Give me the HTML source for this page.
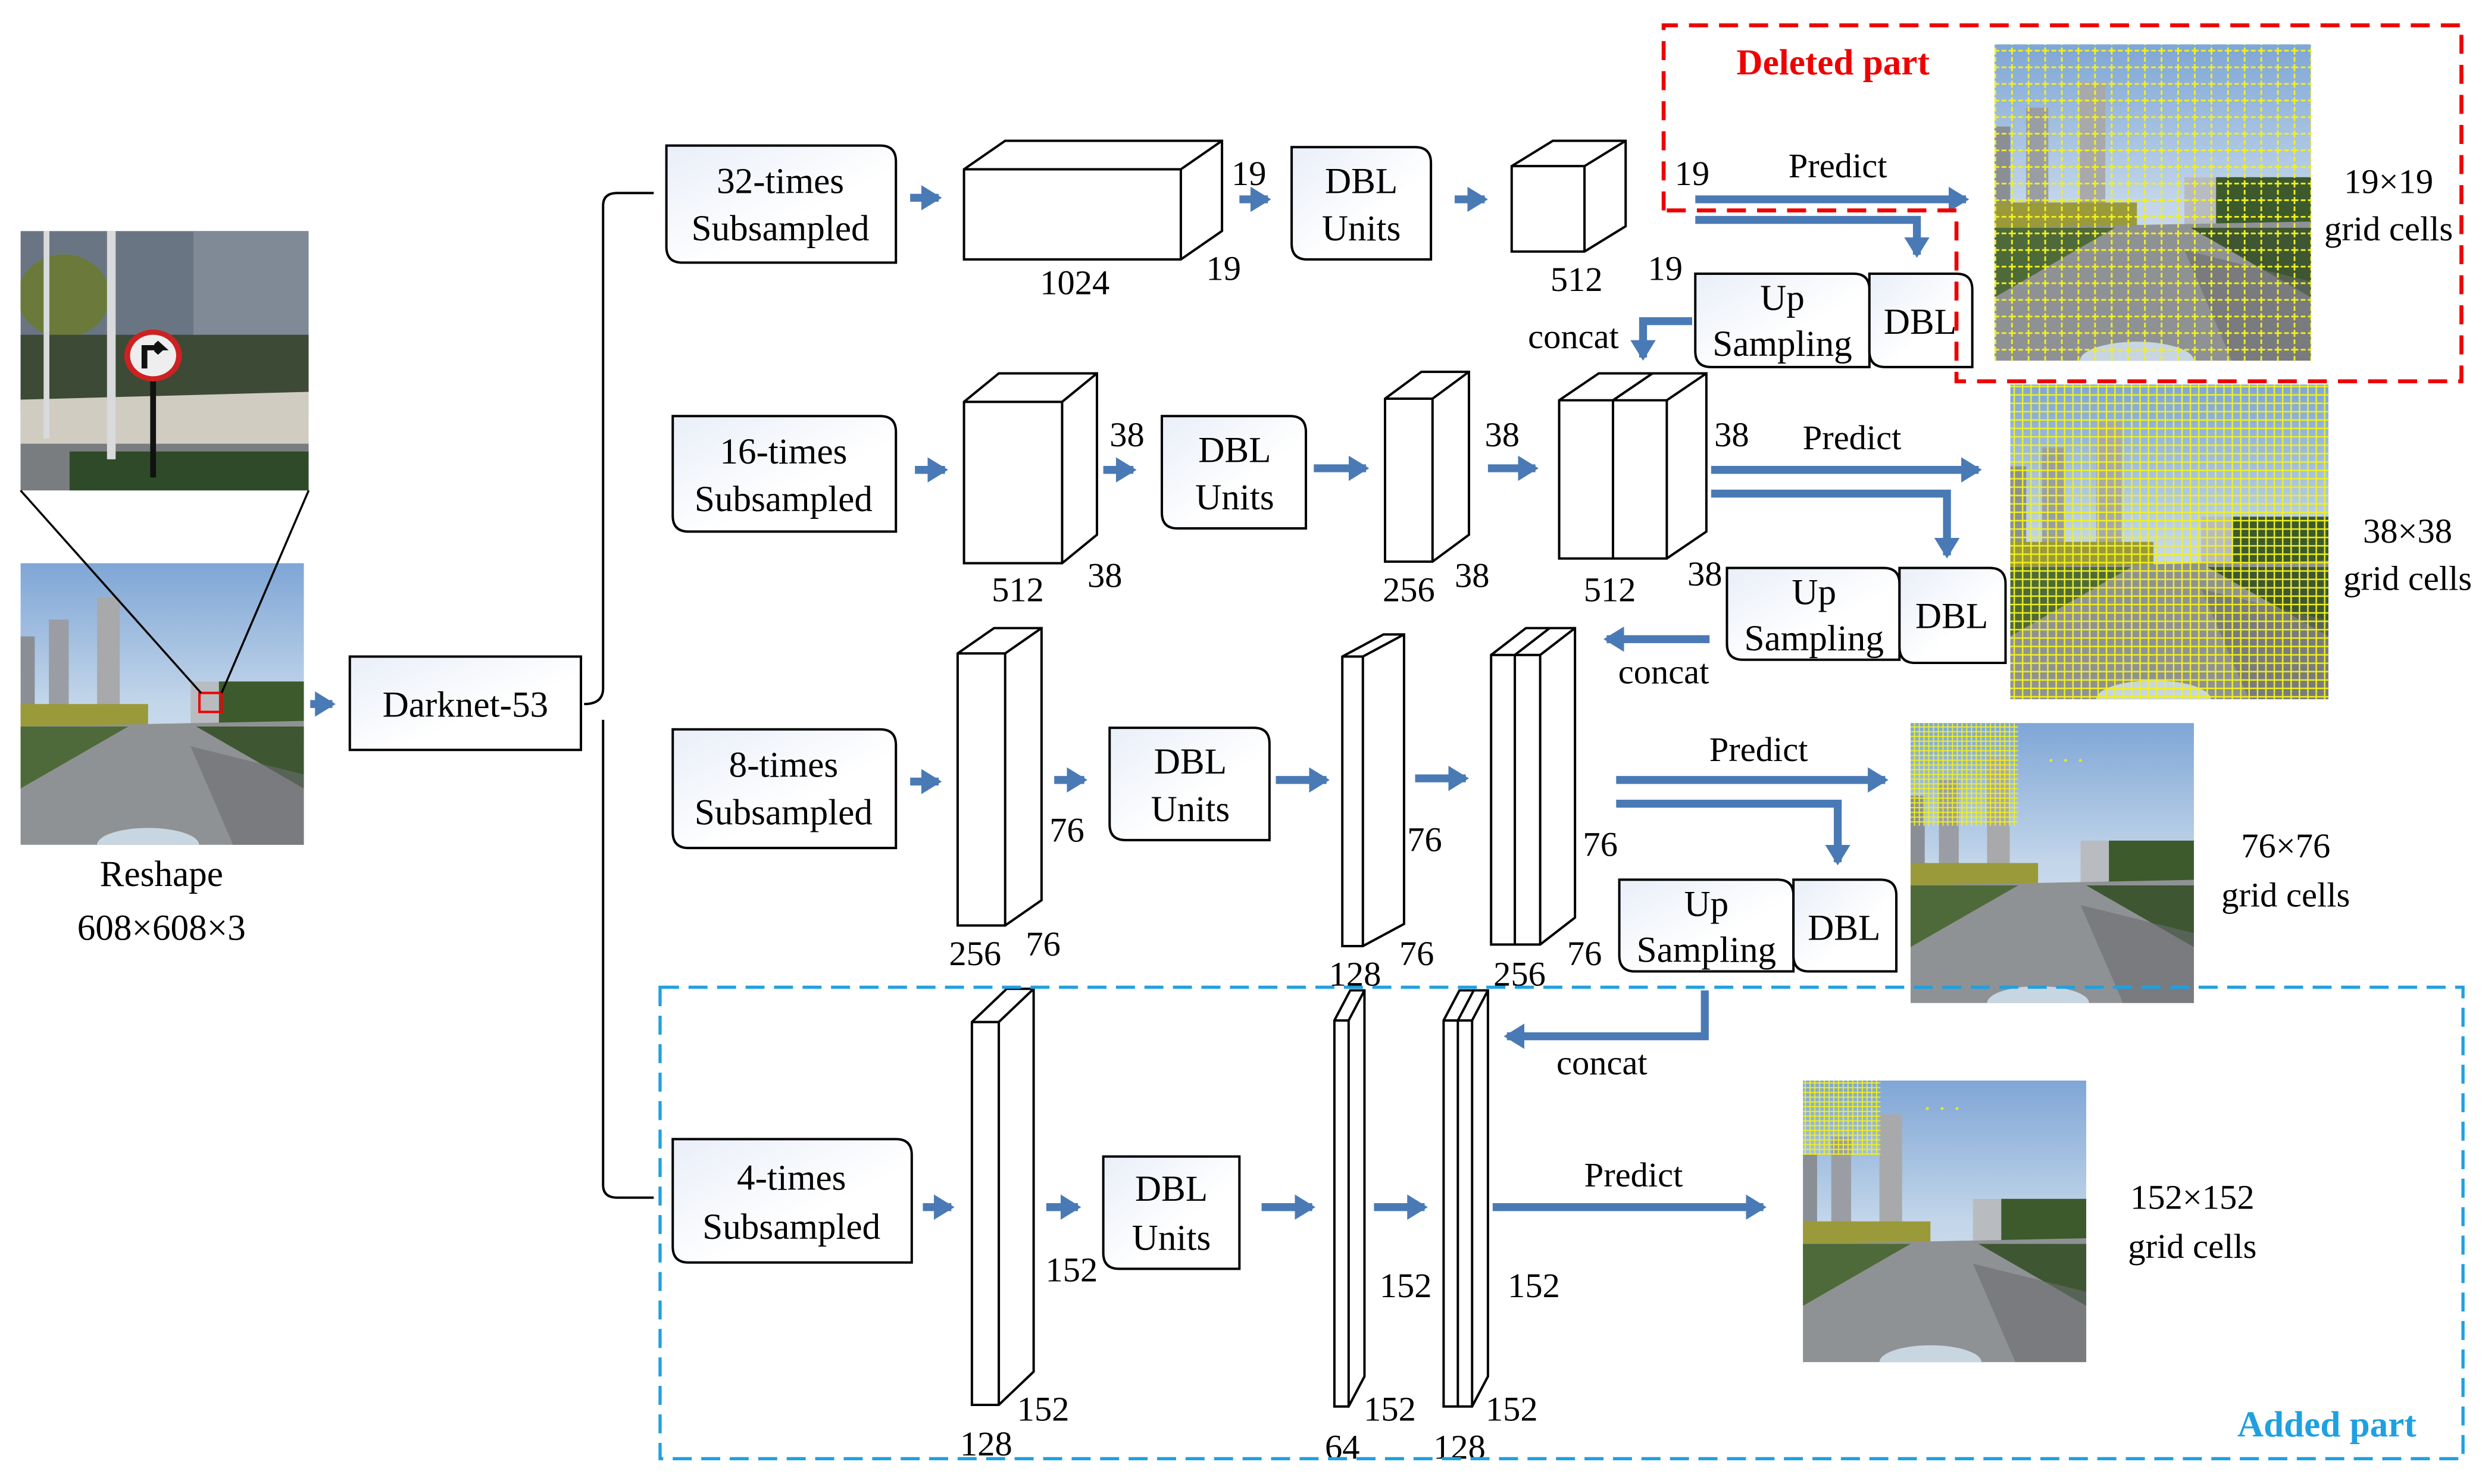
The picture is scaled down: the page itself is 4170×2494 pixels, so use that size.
<!DOCTYPE html>
<html><head><meta charset="utf-8"><style>
html,body{margin:0;padding:0;background:#fff}
svg{display:block}
text{font-family:"Liberation Serif",serif;fill:#000}
</style></head><body>
<svg width="4170" height="2494" viewBox="0 0 1568 938" preserveAspectRatio="none" xmlns="http://www.w3.org/2000/svg">
<defs>
<linearGradient id="sky" x1="0" y1="0" x2="0" y2="1"><stop offset="0" stop-color="#7fa6d6"/><stop offset="0.5" stop-color="#c3d6ea"/><stop offset="1" stop-color="#d8e2ea"/></linearGradient>
<linearGradient id="box" x1="0" y1="0" x2="1" y2="1"><stop offset="0" stop-color="#e9eef8"/><stop offset="0.6" stop-color="#fff"/></linearGradient>
<symbol id="street" viewBox="0 0 100 100" preserveAspectRatio="none">
<rect width="100" height="100" fill="url(#sky)"/>
<rect x="0" y="26" width="5" height="30" fill="#8a8f96"/>
<rect x="10" y="20" width="7" height="36" fill="#9a9ea4"/>
<rect x="27" y="12" width="8" height="44" fill="#a8a9aa"/>
<rect x="60" y="42" width="10" height="16" fill="#b8bcc0"/>
<rect x="0" y="50" width="45" height="10" fill="#9a9a3a"/>
<rect x="70" y="42" width="30" height="20" fill="#3c5a2c"/>
<polygon points="0,58 100,56 100,100 0,100" fill="#8f9294"/>
<polygon points="0,58 38,58 0,80" fill="#4e6a3a"/>
<polygon points="62,58 100,58 100,80" fill="#3e5632"/>
<polygon points="60,65 100,75 100,100 75,100" fill="#6a6c70" opacity="0.6"/>
<ellipse cx="45" cy="100" rx="18" ry="6" fill="#c8d6e2"/>
</symbol>
<symbol id="crop" viewBox="0 0 100 100" preserveAspectRatio="none">
<rect width="100" height="100" fill="#6a7584"/>
<rect x="60" y="0" width="40" height="45" fill="#7f8a96"/>
<circle cx="15" cy="25" r="16" fill="#6b7a3a"/>
<rect x="0" y="40" width="100" height="30" fill="#3d4a36"/>
<polygon points="0,65 100,62 100,82 0,85" fill="#d0ccc2"/>
<rect x="0" y="82" width="100" height="18" fill="#7a7d80"/>
<rect x="17" y="85" width="83" height="15" fill="#2f4a28"/>
<rect x="30" y="0" width="3" height="88" fill="#d8dadc"/>
<rect x="8" y="0" width="2" height="80" fill="#d8dadc"/>
<rect x="45" y="50" width="2" height="45" fill="#111"/>
<circle cx="46" cy="48" r="9" fill="#eee" stroke="#c22" stroke-width="2"/>
<path d="M43,53 v-8 h6 l-2,-2 m2,2 l-2,2" stroke="#111" stroke-width="2" fill="none"/>
</symbol>
<pattern id="g19" width="10.5" height="10.5" patternUnits="userSpaceOnUse"><path d="M0,0.5 H10.5 M0.5,0 V10.5" stroke="#f0f020" stroke-width="1.2" stroke-dasharray="3 1.5"/></pattern>
<pattern id="g38" width="5.3" height="5.3" patternUnits="userSpaceOnUse"><path d="M0,0.5 H5.3 M0.5,0 V5.3" stroke="#f0f020" stroke-width="0.9"/></pattern>
<pattern id="g76" width="3" height="3" patternUnits="userSpaceOnUse"><path d="M0,0.5 H3 M0.5,0 V3" stroke="#f0f020" stroke-width="0.7"/></pattern>
<marker id="ah" markerWidth="4" markerHeight="4" refX="2.2" refY="2" orient="auto" markerUnits="strokeWidth"><path d="M0,0.4 L2.6,2 L0,3.6 z" fill="#4a7ab5"/></marker>
</defs>

<!-- left images -->
<use href="#crop" x="13" y="146" width="182" height="164"/>
<use href="#street" x="13" y="356" width="179" height="178"/>
<rect x="126" y="438" width="14" height="12" fill="none" stroke="#e00" stroke-width="1.5"/>
<line x1="13" y1="310" x2="127" y2="438" stroke="#000" stroke-width="1.3"/>
<line x1="195" y1="310" x2="140" y2="438" stroke="#000" stroke-width="1.3"/>
<text x="102" y="560" font-size="23" text-anchor="middle">Reshape</text>
<text x="102" y="594" font-size="23" text-anchor="middle">608×608×3</text>

<g stroke="#4a7ab5" stroke-width="5" fill="none" marker-end="url(#ah)">
<line x1="196" y1="445" x2="210" y2="445"/>
<line x1="575" y1="125" x2="593" y2="125"/>
<line x1="783" y1="126" x2="801" y2="126"/>
<line x1="919" y1="126" x2="938" y2="126"/>
<line x1="578" y1="297" x2="597" y2="297"/>
<line x1="697" y1="297" x2="716" y2="297"/>
<line x1="830" y1="296" x2="863" y2="296"/>
<line x1="940" y1="296" x2="970" y2="296"/>
<line x1="575" y1="494" x2="593" y2="494"/>
<line x1="666" y1="493" x2="685" y2="493"/>
<line x1="806" y1="493" x2="838" y2="493"/>
<line x1="894" y1="492" x2="926" y2="492"/>
<line x1="583" y1="763" x2="601" y2="763"/>
<line x1="661" y1="763" x2="681" y2="763"/>
<line x1="797" y1="763" x2="829" y2="763"/>
<line x1="868" y1="763" x2="900" y2="763"/>
<line x1="1071" y1="126" x2="1242" y2="126"/>
<polyline points="1071,139 1211,139 1211,161"/>
<line x1="1081" y1="297" x2="1250" y2="297"/>
<polyline points="1081,312 1230,312 1230,351"/>
<line x1="1021" y1="493" x2="1191" y2="493"/>
<polyline points="1021,508 1161,508 1161,545"/>
<line x1="943" y1="763" x2="1114" y2="763"/>
<polyline points="1069,203 1038,203 1038,226"/>
<line x1="1080" y1="404" x2="1015" y2="404"/>
<polyline points="1077,626 1077,655 952,655"/>
</g>

<!-- Darknet and bracket -->
<rect x="221" y="415" width="146" height="59" fill="url(#box)" stroke="#000" stroke-width="1.5"/>
<text x="294" y="453" font-size="23" text-anchor="middle">Darknet-53</text>
<path d="M369,445 Q381,445 381,435 V130 Q381,122 390,122 H413 M381,455 V749 Q381,757 390,757 H413" stroke="#000" stroke-width="1.5" fill="none"/>

<!-- rounded boxes -->
<g stroke="#000" stroke-width="1.5" fill="url(#box)">
<path d="M421,92 H556 Q566,92 566,102 V166 H431 Q421,166 421,156 Z"/>
<path d="M425,263 H556 Q566,263 566,273 V336 H435 Q425,336 425,326 Z"/>
<path d="M425,461 H556 Q566,461 566,471 V536 H435 Q425,536 425,526 Z"/>
<path d="M425,720 H566 Q576,720 576,730 V798 H435 Q425,798 425,788 Z"/>
<path d="M816,93 H894 Q904,93 904,103 V164 H826 Q816,164 816,154 Z"/>
<path d="M734,263 H815 Q825,263 825,273 V334 H744 Q734,334 734,324 Z"/>
<path d="M701,460 H792 Q802,460 802,470 V531 H711 Q701,531 701,521 Z"/>
<path d="M697,731 H783 V802 H707 Q697,802 697,792 Z"/>
<path d="M1071,173 H1171 Q1181,173 1181,183 V232 H1081 Q1071,232 1071,222 Z"/>
<path d="M1181,173 H1236 Q1246,173 1246,183 V232 H1191 Q1181,232 1181,222 Z"/>
<path d="M1091,359 H1190 Q1200,359 1200,369 V417 H1101 Q1091,417 1091,407 Z"/>
<path d="M1200,359 H1257 Q1267,359 1267,369 V419 H1210 Q1200,419 1200,409 Z"/>
<path d="M1023,556 H1123 Q1133,556 1133,566 V614 H1033 Q1023,614 1023,604 Z"/>
<path d="M1133,556 H1188 Q1198,556 1198,566 V614 H1143 Q1133,614 1133,604 Z"/>
</g>
<g font-size="23" text-anchor="middle">
<text x="493" y="122">32-times</text><text x="493" y="152">Subsampled</text>
<text x="495" y="293">16-times</text><text x="495" y="323">Subsampled</text>
<text x="495" y="491">8-times</text><text x="495" y="521">Subsampled</text>
<text x="500" y="752">4-times</text><text x="500" y="783">Subsampled</text>
<text x="860" y="122">DBL</text><text x="860" y="152">Units</text>
<text x="780" y="292">DBL</text><text x="780" y="322">Units</text>
<text x="752" y="489">DBL</text><text x="752" y="519">Units</text>
<text x="740" y="759">DBL</text><text x="740" y="790">Units</text>
<text x="1126" y="196">Up</text><text x="1126" y="225">Sampling</text><text x="1213" y="211">DBL</text>
<text x="1146" y="382">Up</text><text x="1146" y="411">Sampling</text><text x="1233" y="397">DBL</text>
<text x="1078" y="579">Up</text><text x="1078" y="608">Sampling</text><text x="1165" y="594">DBL</text>
</g>

<!-- cuboids -->
<g stroke="#000" stroke-width="1.5" fill="#fff" stroke-linejoin="miter">
<path d="M609,107 L635,89 H772 V146 L746,164 H609 Z M609,107 H746 V164 M746,107 L772,89"/>
<path d="M955,105 L981,89 H1027 V143 L1001,159 H955 Z M955,105 H1001 V159 M1001,105 L1027,89"/>
<path d="M609,254 L631,236 H693 V338 L671,356 H609 Z M609,254 H671 V356 M671,254 L693,236"/>
<path d="M875,252 L898,235 H928 V338 L905,355 H875 Z M875,252 H905 V355 M905,252 L928,235"/>
<path d="M985,253 L1010,236 H1078 V336 L1053,353 H985 Z M985,253 H1053 V353 M1053,253 L1078,236 M1019,253 V353 M1019,253 L1044,236"/>
<path d="M605,413 L628,397 H658 V569 L635,585 H605 Z M605,413 H635 V585 M635,413 L658,397"/>
<path d="M848,415 L874,401 H887 V584 L861,598 H848 Z M848,415 H861 V598 M861,415 L887,401"/>
<path d="M942,414 L964,397 H995 V580 L973,597 H942 Z M942,414 H973 V597 M973,414 L995,397 M957,414 V597 M957,414 L979,397"/>
<path d="M614,646 L636,625 H653 V867 L631,888 H614 Z M614,646 H631 V888 M631,646 L653,625"/>
<path d="M843,645 L853,626 H862 V870 L852,889 H843 Z M843,645 H852 V889 M852,645 L862,626"/>
<path d="M912,645 L922,626 H940 V870 L930,889 H912 Z M912,645 H930 V889 M930,645 L940,626 M921,645 V889 M921,645 L931,626"/>
</g>
<g font-size="22" text-anchor="middle">
<text x="789" y="117">19</text><text x="773" y="177">19</text><text x="679" y="186">1024</text>
<text x="1069" y="117">19</text><text x="996" y="184">512</text><text x="1052" y="177">19</text>
<text x="712" y="282">38</text><text x="643" y="380">512</text><text x="698" y="371">38</text>
<text x="949" y="282">38</text><text x="890" y="380">256</text><text x="930" y="371">38</text>
<text x="1094" y="282">38</text><text x="1017" y="380">512</text><text x="1077" y="370">38</text>
<text x="674" y="532">76</text><text x="616" y="610">256</text><text x="659" y="604">76</text>
<text x="900" y="538">76</text><text x="856" y="623">128</text><text x="895" y="610">76</text>
<text x="1011" y="541">76</text><text x="960" y="623">256</text><text x="1001" y="610">76</text>
<text x="677" y="810">152</text><text x="623" y="920">128</text><text x="659" y="898">152</text>
<text x="888" y="820">152</text><text x="848" y="922">64</text><text x="878" y="898">152</text>
<text x="969" y="820">152</text><text x="922" y="922">128</text><text x="955" y="898">152</text>
<text x="1161" y="112">Predict</text><text x="1170" y="284">Predict</text>
<text x="1111" y="481">Predict</text><text x="1032" y="750">Predict</text>
<text x="994" y="220">concat</text><text x="1051" y="432">concat</text><text x="1012" y="679">concat</text>
<text x="1509" y="122">19×19</text><text x="1509" y="152">grid cells</text>
<text x="1521" y="343">38×38</text><text x="1521" y="373">grid cells</text>
<text x="1444" y="542">76×76</text><text x="1444" y="573">grid cells</text>
<text x="1385" y="764">152×152</text><text x="1385" y="795">grid cells</text>
</g>

<!-- grid images -->
<use href="#street" x="1260" y="28" width="200" height="200"/>
<rect x="1260" y="28" width="200" height="200" fill="url(#g19)"/>
<use href="#street" x="1270" y="243" width="201" height="199"/>
<rect x="1270" y="243" width="201" height="199" fill="url(#g38)"/>
<use href="#street" x="1207" y="457" width="179" height="177"/>
<rect x="1207" y="457" width="68" height="65" fill="url(#g76)"/>
<text x="1305" y="486" font-size="16" fill="#f0f020" style="fill:#e8e820" text-anchor="middle">· · ·</text>
<use href="#street" x="1139" y="683" width="179" height="178"/>
<rect x="1139" y="683" width="49" height="47" fill="url(#g76)"/>
<text x="1227" y="706" font-size="16" style="fill:#e8e820" text-anchor="middle">· · ·</text>

<!-- dashed regions -->
<polyline points="1051,133 1051,16 1555,16 1555,241 1236,241 1236,133 1051,133" fill="none" stroke="#e00" stroke-width="2.5" stroke-dasharray="12 7"/>
<text x="1158" y="47" font-size="23" font-weight="bold" text-anchor="middle" style="fill:#e00">Deleted part</text>
<rect x="417" y="624" width="1139" height="298" fill="none" stroke="#1fa0e0" stroke-width="2" stroke-dasharray="12 6"/>
<text x="1470" y="908" font-size="23" font-weight="bold" text-anchor="middle" style="fill:#1fa0e0">Added part</text>
</svg>
</body></html>
